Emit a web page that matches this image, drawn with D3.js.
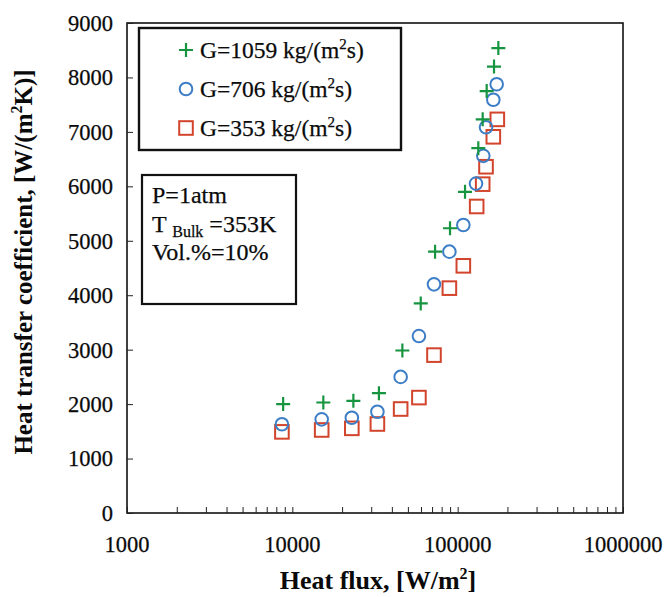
<!DOCTYPE html>
<html><head><meta charset="utf-8">
<script src="https://cdn.jsdelivr.net/npm/d3@7"></script>
<style>
html,body{margin:0;padding:0;background:#fff;}
svg{display:block;font-family:"Liberation Serif","Times New Roman",serif;}
</style></head>
<body>
<svg id="chart" width="667" height="597"></svg>
<script>
// ---- data ----
const seriesNames = ["G=1059 kg/(m²s)", "G=706 kg/(m²s)", "G=353 kg/(m²s)"];
const fluxG1059 = [8800, 15400, 23400, 33400, 46300, 59800, 73000, 89900, 110800, 133300, 141700, 149800, 165900, 176200];
const htcG1059  = [2000, 2030, 2060, 2200, 2985, 3850, 4800, 5230, 5900, 6700, 7230, 7750, 8200, 8540];
const fluxG706  = [8650, 15050, 22900, 32700, 45200, 58300, 71900, 89100, 108200, 129100, 142900, 148400, 164300, 172200];
const htcG706   = [1630, 1720, 1750, 1860, 2500, 3250, 4200, 4800, 5290, 6050, 6560, 7085, 7590, 7875];
const fluxG353  = [8650, 15050, 22900, 32700, 45200, 58300, 71900, 89100, 108200, 130300, 141700, 148400, 164300, 173700];
const htcG353   = [1490, 1525, 1555, 1635, 1910, 2120, 2900, 4130, 4540, 5630, 6040, 6360, 6910, 7230];
const xTickValues = [1000, 10000, 100000, 1000000];
const yTickValues = [0, 1000, 2000, 3000, 4000, 5000, 6000, 7000, 8000, 9000];

// ---- layout ----
const L = 127, R = 623, T = 23, B = 513;
const svg = d3.select("#chart");
const x = d3.scaleLog().domain([1000, 1000000]).range([L, R]);
const y = d3.scaleLinear().domain([0, 9000]).range([B, T]);
const colors = ["#17943f", "#3d7ec6", "#d2442c"];
const ink = "#0a0a0a";

// frame
svg.append("rect").attr("x", L).attr("y", T).attr("width", R - L).attr("height", B - T)
  .attr("fill", "none").attr("stroke", "#111").attr("stroke-width", 1.6);

// x axis ticks (inside, major + minor)
const minor = [];
for (let d = 1000; d < 1000000; d *= 10) for (let k = 2; k <= 9; k++) minor.push(d * k);
const xAxis = d3.axisBottom(x).tickValues(minor.concat(xTickValues)).tickSize(-6).tickFormat("");
const gx = svg.append("g").attr("transform", `translate(0,${B})`).call(xAxis);
gx.select(".domain").remove();
gx.selectAll("line").attr("stroke", "#222").attr("stroke-width", 1);

svg.append("g").selectAll("text").data(xTickValues).join("text")
  .attr("x", d => x(d)).attr("y", 552).attr("text-anchor", "middle")
  .attr("font-size", 22.5).attr("fill", ink).attr("stroke", ink).attr("stroke-width", 0.25).text(d => d);

// y axis ticks (inside)
const yAxis = d3.axisLeft(y).tickValues(yTickValues).tickSize(-6).tickFormat("");
const gy = svg.append("g").attr("transform", `translate(${L},0)`).call(yAxis);
gy.select(".domain").remove();
gy.selectAll("line").attr("stroke", "#222").attr("stroke-width", 1);

svg.append("g").selectAll("text").data(yTickValues).join("text")
  .attr("x", 113).attr("y", d => y(d)).attr("dy", "0.35em").attr("text-anchor", "end")
  .attr("font-size", 22.5).attr("fill", ink).attr("stroke", ink).attr("stroke-width", 0.25).text(d => d);

// axis titles
const xt = svg.append("text").attr("x", 378).attr("y", 589).attr("text-anchor", "middle")
  .attr("font-size", 26).attr("font-weight", "bold").attr("fill", ink);
xt.append("tspan").text("Heat flux, [W/m");
xt.append("tspan").attr("font-size", 16).attr("dy", -10).text("2");
xt.append("tspan").attr("dy", 10).text("]");

const yt = svg.append("text").attr("transform", "translate(32,262) rotate(-90)")
  .attr("text-anchor", "middle").attr("font-size", 25).attr("font-weight", "bold").attr("fill", ink);
yt.append("tspan").text("Heat transfer coefficient, [W/(m");
yt.append("tspan").attr("font-size", 16).attr("dy", -10).text("2");
yt.append("tspan").attr("dy", 10).text("K)]");

// marker drawing
function drawMarker(g, type, color) {
  if (type === 0) {
    g.append("path").attr("d", "M-7,0H7M0,-7V7").attr("stroke", color).attr("stroke-width", 2.2).attr("fill", "none");
  } else if (type === 1) {
    g.append("circle").attr("r", 6.3).attr("stroke", color).attr("stroke-width", 2).attr("fill", "none");
  } else {
    g.append("rect").attr("x", -6.8).attr("y", -6.8).attr("width", 13.6).attr("height", 13.6)
      .attr("stroke", color).attr("stroke-width", 2).attr("fill", "none");
  }
}

const seriesData = [
  d3.zip(fluxG1059, htcG1059),
  d3.zip(fluxG706, htcG706),
  d3.zip(fluxG353, htcG353)
];
// draw squares, circles, then plus on top
[2, 1, 0].forEach(si => {
  svg.append("g").selectAll("g").data(seriesData[si]).join("g")
    .attr("transform", d => `translate(${x(d[0])},${y(d[1])})`)
    .each(function () { drawMarker(d3.select(this), si, colors[si]); });
});

// legend box
svg.append("rect").attr("x", 139).attr("y", 28).attr("width", 262).attr("height", 122)
  .attr("fill", "#fff").attr("stroke", "#111").attr("stroke-width", 2.4);
const legY = [50, 89, 128];
seriesNames.forEach((name, i) => {
  const g = svg.append("g").attr("transform", `translate(186,${legY[i]})`);
  drawMarker(g, i, colors[i]);
  const t = svg.append("text").attr("x", 200).attr("y", legY[i] + 8).attr("font-size", 23.5)
    .attr("fill", ink).attr("stroke", ink).attr("stroke-width", 0.25);
  const parts = name.split("²");
  t.append("tspan").text(parts[0]);
  t.append("tspan").attr("font-size", 15).attr("dy", -9).text("2");
  t.append("tspan").attr("dy", 9).text(parts[1]);
});

// info box
svg.append("rect").attr("x", 142).attr("y", 175).attr("width", 154).attr("height", 129)
  .attr("fill", "#fff").attr("stroke", "#111").attr("stroke-width", 2.2);
const infoStyle = t => t.attr("font-size", 24).attr("fill", ink).attr("stroke", ink).attr("stroke-width", 0.25);
infoStyle(svg.append("text").attr("x", 152).attr("y", 203)).text("P=1atm");
const tb = infoStyle(svg.append("text").attr("x", 152).attr("y", 232));
tb.append("tspan").text("T ");
tb.append("tspan").attr("font-size", 16).attr("dy", 5).text("Bulk");
tb.append("tspan").attr("dy", -5).text(" =353K");
infoStyle(svg.append("text").attr("x", 152).attr("y", 260)).text("Vol.%=10%");
</script>
</body></html>
